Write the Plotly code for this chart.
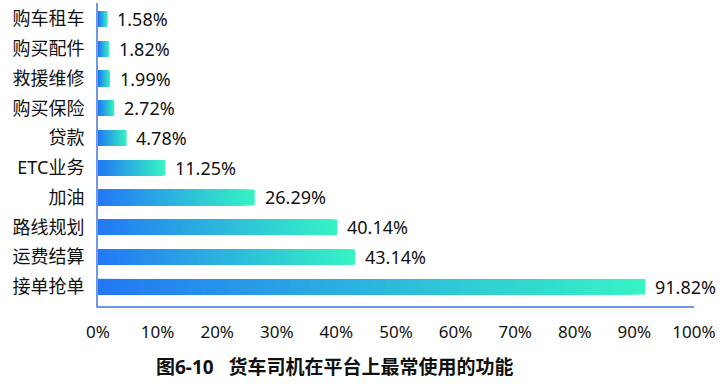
import plotly.graph_objects as go

# Data (top-to-bottom as shown)
categories = ["购车租车", "购买配件", "救援维修", "购买保险", "贷款", "ETC业务", "加油", "路线规划", "运费结算", "接单抢单"]
values = [1.58, 1.82, 1.99, 2.72, 4.78, 11.25, 26.29, 40.14, 43.14, 91.82]
tick_vals = [0, 10, 20, 30, 40, 50, 60, 70, 80, 90, 100]
tick_text = ["0%", "10%", "20%", "30%", "40%", "50%", "60%", "70%", "80%", "90%", "100%"]
title_text = "图6-10   货车司机在平台上最常使用的功能"

cats = categories[::-1]
vals = values[::-1]

FONT = "Noto Sans, Noto Sans CJK SC"
c0 = (0x22, 0x77, 0xF6)
c1 = (0x36, 0xF3, 0xC4)

def lerp(t):
    return "rgb(%d,%d,%d)" % tuple(round(a + (b - a) * t) for a, b in zip(c0, c1))

fig = go.Figure()
N = 80
for k in range(N):
    f = 1 - k / N
    fig.add_trace(go.Bar(
        y=cats, x=[v * f for v in vals], orientation="h",
        marker=dict(color=lerp(f), line=dict(width=0)),
        width=0.52, hoverinfo="skip", showlegend=False,
    ))

for c, v in zip(cats, vals):
    fig.add_annotation(x=v, y=c, text=f"{v:.2f}%", showarrow=False,
                       xanchor="left", xshift=8, font=dict(family=FONT, size=18, color="#111"))

fig.add_annotation(x=0.397, y=-0.2, xref="paper", yref="paper", text="<b>" + title_text + "</b>",
                   showarrow=False, xanchor="center", yanchor="middle",
                   font=dict(family=FONT, size=19, color="#111"))

fig.update_layout(
    width=725, height=388, barmode="overlay",
    margin=dict(l=98, r=31, t=3, b=82, autoexpand=False),
    paper_bgcolor="white", plot_bgcolor="white",
    font=dict(family=FONT, size=17, color="#111"),
    xaxis=dict(range=[0, 100], tickvals=tick_vals, ticktext=tick_text, showgrid=False,
               zeroline=False, showline=True, linecolor="#7396e6", linewidth=2,
               ticks="", ticklabelstandoff=10, fixedrange=True, automargin=False),
    yaxis=dict(type="category", categoryarray=cats, range=[-0.65, 9.54], showgrid=False,
               zeroline=False, showline=True, linecolor="#7396e6", linewidth=2,
               ticks="", ticklabelstandoff=8, automargin=False, tickfont=dict(size=18),
               fixedrange=True),
)

fig.write_html("out.html", config={"displayModeBar": False},
               post_script="document.body.style.margin='0';")
